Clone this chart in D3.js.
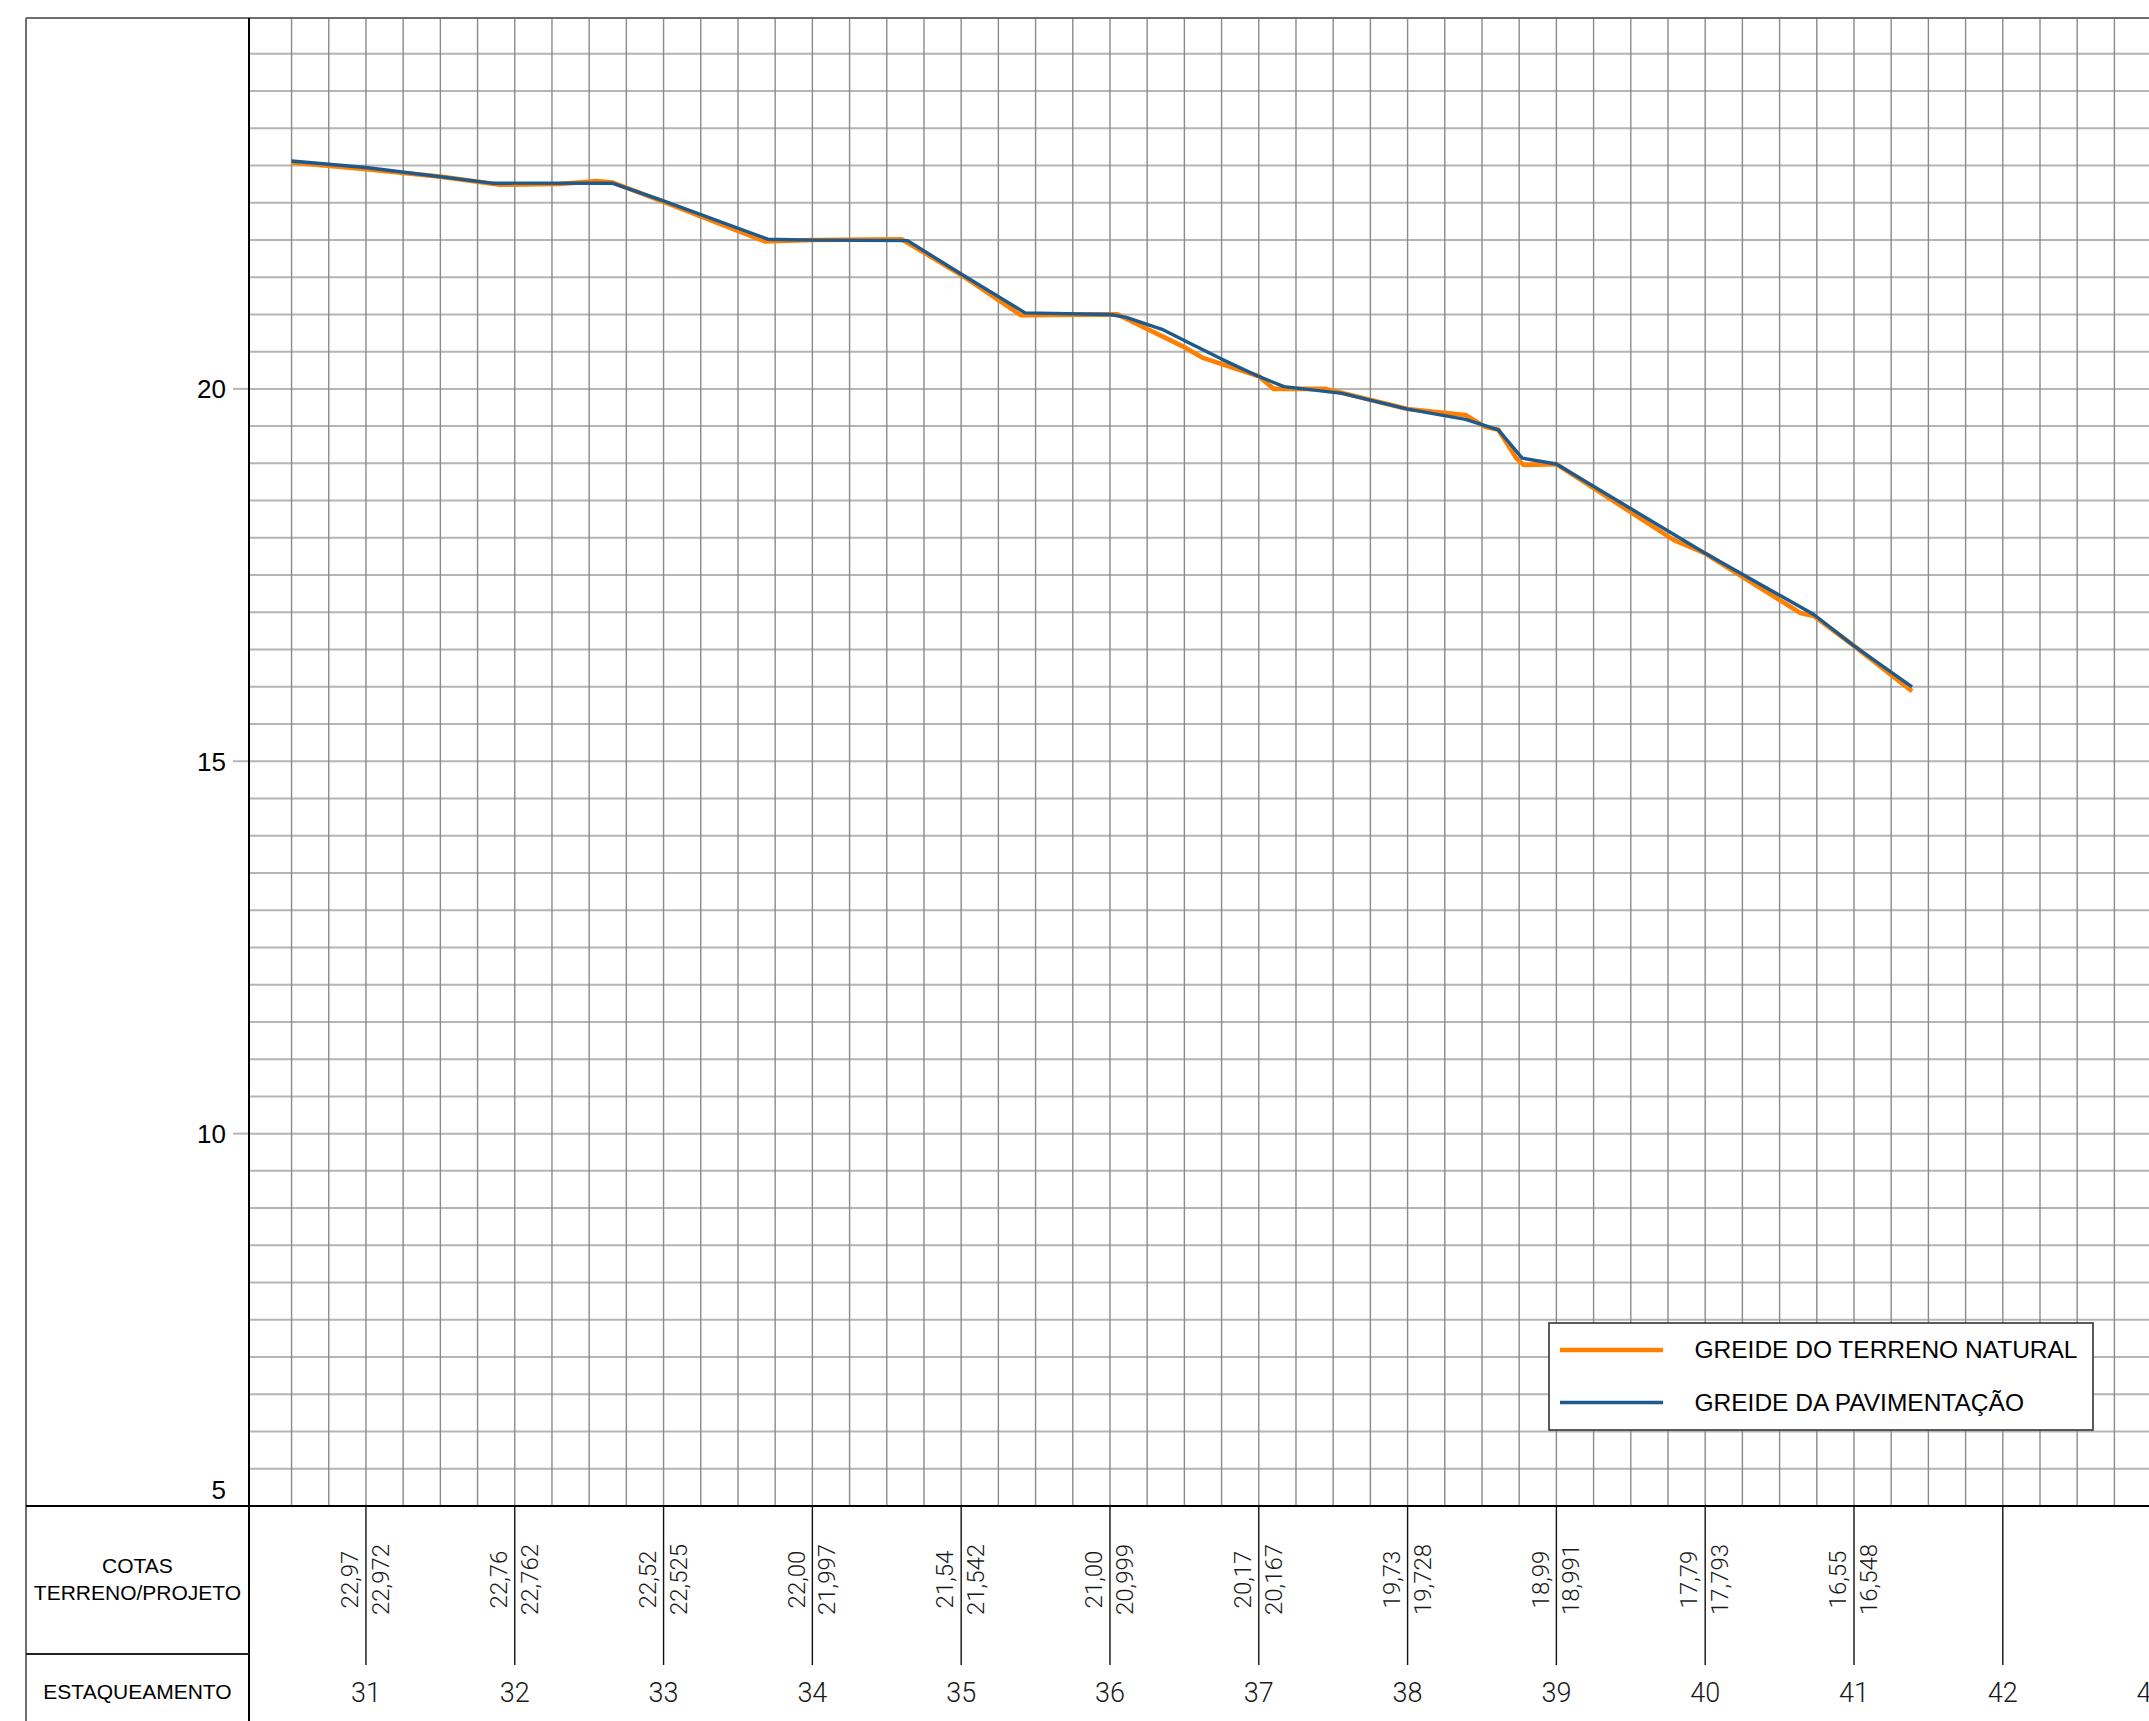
<!DOCTYPE html>
<html>
<head>
<meta charset="utf-8">
<script src="https://d3js.org/d3.v7.min.js"></script>
<style>
  body { margin: 0; background: #fff; }
  .cad { font-family: Roboto, "DejaVu Sans", sans-serif; font-weight: 300; fill: #1a1a1a; }
  .arial { font-family: "Liberation Sans", Arial, sans-serif; fill: #000; }
</style>
</head>
<body>
<div id="chart"></div>
<script>
// estacas (stations) and the table of elevations
const estacas = [31, 32, 33, 34, 35, 36, 37, 38, 39, 40, 41, 42, 43];
const cotaTerrenoTab = [22.97, 22.76, 22.52, 22.00, 21.54, 21.00, 20.17, 19.73, 18.99, 17.79, 16.55];
const cotaProjetoTab = [22.972, 22.762, 22.525, 21.997, 21.542, 20.999, 20.167, 19.728, 18.991, 17.793, 16.548];
const yTicks = [5, 10, 15, 20];

// profile vertices
const projetoEst  = [30.50, 31.00, 31.86, 32.00, 32.66, 33.00, 33.70, 34.00, 34.64, 35.00, 35.43, 36.00, 36.11, 36.35, 36.56, 36.75, 37.00, 37.17, 37.56, 38.00, 38.39, 38.61, 38.77, 39.00, 40.00, 40.73, 41.00, 41.39];
const projetoCota = [23.06, 22.972, 22.76, 22.762, 22.76, 22.525, 22.01, 21.997, 21.99, 21.542, 21.02, 20.999, 20.96, 20.80, 20.59, 20.40, 20.167, 20.03, 19.94, 19.728, 19.59, 19.45, 19.07, 18.991, 17.793, 16.97, 16.548, 16.00];

const terrenoEst  = [30.50, 31.00, 31.50, 31.90, 32.30, 32.55, 32.66, 33.00, 33.68, 34.00, 34.60, 35.00, 35.40, 36.05, 36.50, 36.62, 37.00, 37.10, 37.45, 38.00, 38.39, 38.52, 38.61, 38.73, 38.78, 39.00, 39.79, 40.00, 40.64, 40.73, 41.00, 41.39];
const terrenoCota = [23.04, 22.95, 22.85, 22.74, 22.75, 22.79, 22.77, 22.51, 21.98, 22.00, 22.01, 21.53, 20.99, 21.00, 20.56, 20.42, 20.17, 20.00, 20.00, 19.73, 19.65, 19.49, 19.45, 19.07, 18.98, 18.99, 17.97, 17.79, 16.99, 16.95, 16.55, 15.94];

const legendLabels = ["GREIDE DO TERRENO NATURAL", "GREIDE DA PAVIMENTAÇÃO"];
const colors = ["#ff8000", "#1f5a8c"];

const W = 2149, H = 1721;
const frameL = 26, frameT = 18;
const plotL = 249, plotB = 1506;
const tableDiv = 1654, tickEnd = 1665;

const br = d3.formatLocale({ decimal: ",", thousands: ".", grouping: [3], currency: ["R$", ""] });
const f2 = br.format(".2f"), f3 = br.format(".3f");

const svg = d3.select("#chart").append("svg")
  .attr("width", W).attr("height", H);

const x = d3.scaleLinear().domain([30.214, 43]).range([plotL, 2151.6]);
const y = d3.scaleLinear().domain([5, 25]).range([plotB, 16.5]);

// grid
svg.append("g").selectAll("line")
  .data(d3.range(5.5, 24.51, 0.5))
  .join("line")
  .attr("x1", plotL).attr("x2", W)
  .attr("y1", d => y(d)).attr("y2", d => y(d))
  .attr("stroke", "#b5b5b5").attr("stroke-width", 2);

svg.append("g").selectAll("line")
  .data(d3.range(30.5, 43.01, 0.25))
  .join("line")
  .attr("x1", d => x(d)).attr("x2", d => x(d))
  .attr("y1", frameT).attr("y2", plotB)
  .attr("stroke", "#8a8a8a").attr("stroke-width", 1.4);

// y ticks
svg.append("g").selectAll("line")
  .data(yTicks.filter(d => d > 5))
  .join("line")
  .attr("x1", plotL - 16).attr("x2", plotL)
  .attr("y1", d => y(d)).attr("y2", d => y(d))
  .attr("stroke", "#b5b5b5").attr("stroke-width", 2);

svg.append("g").selectAll("text")
  .data(yTicks)
  .join("text")
  .attr("class", "arial")
  .attr("x", plotL - 23)
  .attr("y", d => d === 5 ? y(d) - 7 : y(d))
  .attr("dy", d => d === 5 ? 0 : "0.36em")
  .attr("text-anchor", "end")
  .attr("font-size", 26)
  .text(d => d);

// frame
svg.append("line").attr("x1", frameL).attr("x2", W).attr("y1", frameT).attr("y2", frameT)
  .attr("stroke", "#6e6e6e").attr("stroke-width", 2);
svg.append("line").attr("x1", frameL).attr("x2", frameL).attr("y1", frameT).attr("y2", H)
  .attr("stroke", "#6e6e6e").attr("stroke-width", 2);
svg.append("line").attr("x1", plotL).attr("x2", plotL).attr("y1", frameT).attr("y2", H)
  .attr("stroke", "#000").attr("stroke-width", 2);
svg.append("line").attr("x1", frameL).attr("x2", W).attr("y1", plotB).attr("y2", plotB)
  .attr("stroke", "#000").attr("stroke-width", 2);
svg.append("line").attr("x1", frameL).attr("x2", plotL).attr("y1", tableDiv).attr("y2", tableDiv)
  .attr("stroke", "#222").attr("stroke-width", 2);

// profile lines
const line = d3.line().x(d => x(d[0])).y(d => y(d[1]));
svg.append("path")
  .datum(d3.zip(terrenoEst, terrenoCota))
  .attr("fill", "none").attr("stroke", colors[0]).attr("stroke-width", 4.6)
  .attr("stroke-linejoin", "round").attr("d", line);
svg.append("path")
  .datum(d3.zip(projetoEst, projetoCota))
  .attr("fill", "none").attr("stroke", colors[1]).attr("stroke-width", 3.4)
  .attr("stroke-linejoin", "round").attr("d", line);

// table under the profile
svg.append("g").selectAll("line")
  .data(estacas.filter(d => x(d) < W))
  .join("line")
  .attr("x1", d => x(d)).attr("x2", d => x(d))
  .attr("y1", plotB).attr("y2", tickEnd)
  .attr("stroke", "#111").attr("stroke-width", 1.4);

svg.append("g").selectAll("text")
  .data(estacas)
  .join("text")
  .attr("class", "cad")
  .attr("x", d => x(d)).attr("y", 1702)
  .attr("text-anchor", "middle")
  .attr("font-size", 27)
  .text(d => d);

svg.append("g").selectAll("text")
  .data(cotaTerrenoTab)
  .join("text")
  .attr("class", "cad")
  .attr("transform", (d, i) => `translate(${x(estacas[i]) - 7.7},1579.5) rotate(-90)`)
  .attr("text-anchor", "middle")
  .attr("font-size", 24)
  .text(d => f2(d));

svg.append("g").selectAll("text")
  .data(cotaProjetoTab)
  .join("text")
  .attr("class", "cad")
  .attr("transform", (d, i) => `translate(${x(estacas[i]) + 23},1579.5) rotate(-90)`)
  .attr("text-anchor", "middle")
  .attr("font-size", 24)
  .text(d => f3(d));

// row headers
const hx = (frameL + plotL) / 2;
svg.append("text").attr("class", "arial").attr("x", hx).attr("y", 1573)
  .attr("text-anchor", "middle").attr("font-size", 21).text("COTAS");
svg.append("text").attr("class", "arial").attr("x", hx).attr("y", 1600)
  .attr("text-anchor", "middle").attr("font-size", 21).text("TERRENO/PROJETO");
svg.append("text").attr("class", "arial").attr("x", hx).attr("y", 1698.5)
  .attr("text-anchor", "middle").attr("font-size", 21).text("ESTAQUEAMENTO");

// legend
const lg = svg.append("g");
lg.append("rect").attr("x", 1549).attr("y", 1323).attr("width", 544).attr("height", 107)
  .attr("fill", "#fff").attr("stroke", "#333").attr("stroke-width", 1.6);
const li = lg.selectAll("g.item").data(legendLabels).join("g").attr("class", "item")
  .attr("transform", (d, i) => `translate(0,${1350 + i * 52.5})`);
li.append("line").attr("x1", 1560).attr("x2", 1663).attr("y1", 0).attr("y2", 0)
  .attr("stroke", (d, i) => colors[i]).attr("stroke-width", (d, i) => i ? 3.4 : 4.4);
li.append("text").attr("class", "arial").attr("x", 1694.5).attr("y", 8)
  .attr("font-size", 24.5).text(d => d);
</script>
</body>
</html>
